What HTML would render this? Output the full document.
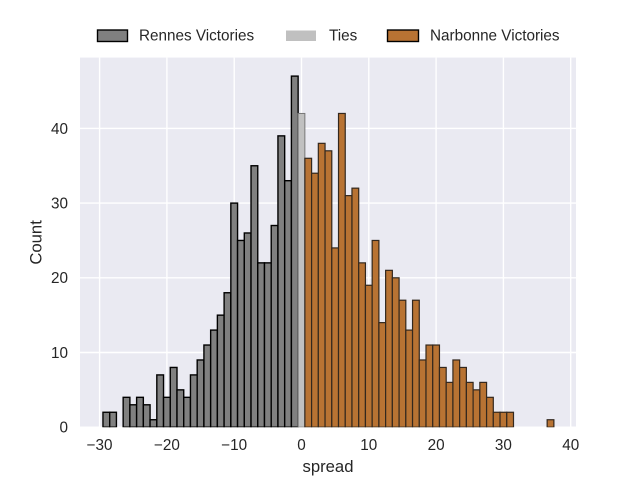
<!DOCTYPE html>
<html>
<head>
<meta charset="utf-8">
<style>
html,body{margin:0;padding:0;background:#fff;width:640px;height:480px;overflow:hidden}
svg{display:block;font-family:"Liberation Sans",Arial,sans-serif;fill:#262626}
</style>
</head>
<body>
<svg id="chart" width="640" height="480" viewBox="0 0 640 480" xmlns="http://www.w3.org/2000/svg">
  <defs><clipPath id="plot-clip"><rect x="80" y="57.6" width="496" height="369.6"/></clipPath></defs>
  <rect x="80" y="57.6" width="496" height="369.6" fill="#eaeaf2"/>
  <g id="grid"></g>
  <g id="bars" clip-path="url(#plot-clip)"></g>
  <g id="ticks"></g>
  <text x="328" y="472" font-size="16.67" text-anchor="middle">spread</text>
  <text transform="translate(41.5,242.4) rotate(-90)" font-size="16.67" text-anchor="middle">Count</text>
  <g>
    <g>
      <rect x="97.5" y="30" width="30" height="11.5" fill="#808080" stroke="#000" stroke-width="1.39"/>
      <text x="139" y="40.5" font-size="15.28">Rennes Victories</text>
    </g>
    <g>
      <rect x="286" y="30.5" width="30" height="10.5" fill="#c0c0c0"/>
      <text x="329" y="40.5" font-size="15.28">Ties</text>
    </g>
    <g>
      <rect x="387.5" y="30" width="31" height="11.5" fill="#b87333" stroke="#000" stroke-width="1.39"/>
      <text x="430" y="40.5" font-size="15.28">Narbonne Victories</text>
    </g>
  </g>
</svg>
<script>
const xTicks = [-30, -20, -10, 0, 10, 20, 30, 40];
const yTicks = [0, 10, 20, 30, 40];
const rennesSpreads = [-29,-28,-27,-26,-25,-24,-23,-22,-21,-20,-19,-18,-17,-16,-15,-14,-13,-12,-11,-10,-9,-8,-7,-6,-5,-4,-3,-2,-1];
const rennesCounts = [2,2,0,4,3,4,3,1,7,4,8,5,4,7,9,11,13,15,18,30,25,26,35,22,22,27,39,33,47];
const tieSpreads = [0];
const tieCounts = [42];
const narbonneSpreads = [1,2,3,4,5,6,7,8,9,10,11,12,13,14,15,16,17,18,19,20,21,22,23,24,25,26,27,28,29,30,31,37];
const narbonneCounts = [36,34,38,37,24,42,31,32,22,19,25,14,21,20,17,13,17,9,11,11,8,6,9,8,6,5,6,4,2,2,2,1];

const NS = 'http://www.w3.org/2000/svg';
const xScale = v => 301.5 + v * 6.73;
const yScale = v => 427.2 - v * 7.47;
const gridG = document.getElementById('grid');
const barsG = document.getElementById('bars');
const ticksG = document.getElementById('ticks');

function line(x1, y1, x2, y2) {
  const l = document.createElementNS(NS, 'line');
  l.setAttribute('x1', x1);
  l.setAttribute('y1', y1);
  l.setAttribute('x2', x2);
  l.setAttribute('y2', y2);
  l.setAttribute('stroke', '#fff');
  l.setAttribute('stroke-width', '1.39');
  
  
  gridG.appendChild(l);
}

function tickText(str, x, y, anchor) {
  const t = document.createElementNS(NS, 'text');
  t.setAttribute('x', x);
  t.setAttribute('y', y);
  t.setAttribute('text-anchor', anchor);
  t.setAttribute('font-size', '15.28');
  
  
  t.textContent = str;
  ticksG.appendChild(t);
}

xTicks.forEach(v => {
  line(xScale(v), 57.6, xScale(v), 427.2);
  tickText(String(v).replace('-', '\u2212'), xScale(v), 450, 'middle');
});
yTicks.forEach(v => {
  line(80, yScale(v), 576, yScale(v));
  tickText(String(v), 68, yScale(v) + 5.4, 'end');
});

function drawBars(spreads, counts, fill, edge, width, name) {
  spreads.forEach((s, i) => {
    if (!counts[i]) return;
    const r = document.createElementNS(NS, 'rect');
    r.setAttribute('x', xScale(s - 0.5));
    r.setAttribute('y', yScale(counts[i]));
    r.setAttribute('width', xScale(s + 0.5) - xScale(s - 0.5));
    r.setAttribute('height', yScale(0) - yScale(counts[i]));
    r.setAttribute('fill', fill);
    r.setAttribute('stroke', edge);
    r.setAttribute('stroke-width', width);
    
    
    barsG.appendChild(r);
  });
}

drawBars(rennesSpreads, rennesCounts, '#808080', '#000', 1.39, 'bar-rennes');
drawBars(tieSpreads, tieCounts, '#c0c0c0', '#777', 1, 'bar-tie');
drawBars(narbonneSpreads, narbonneCounts, '#b87333', '#33281e', 1.2, 'bar-narbonne');
</script>
</body>
</html>
